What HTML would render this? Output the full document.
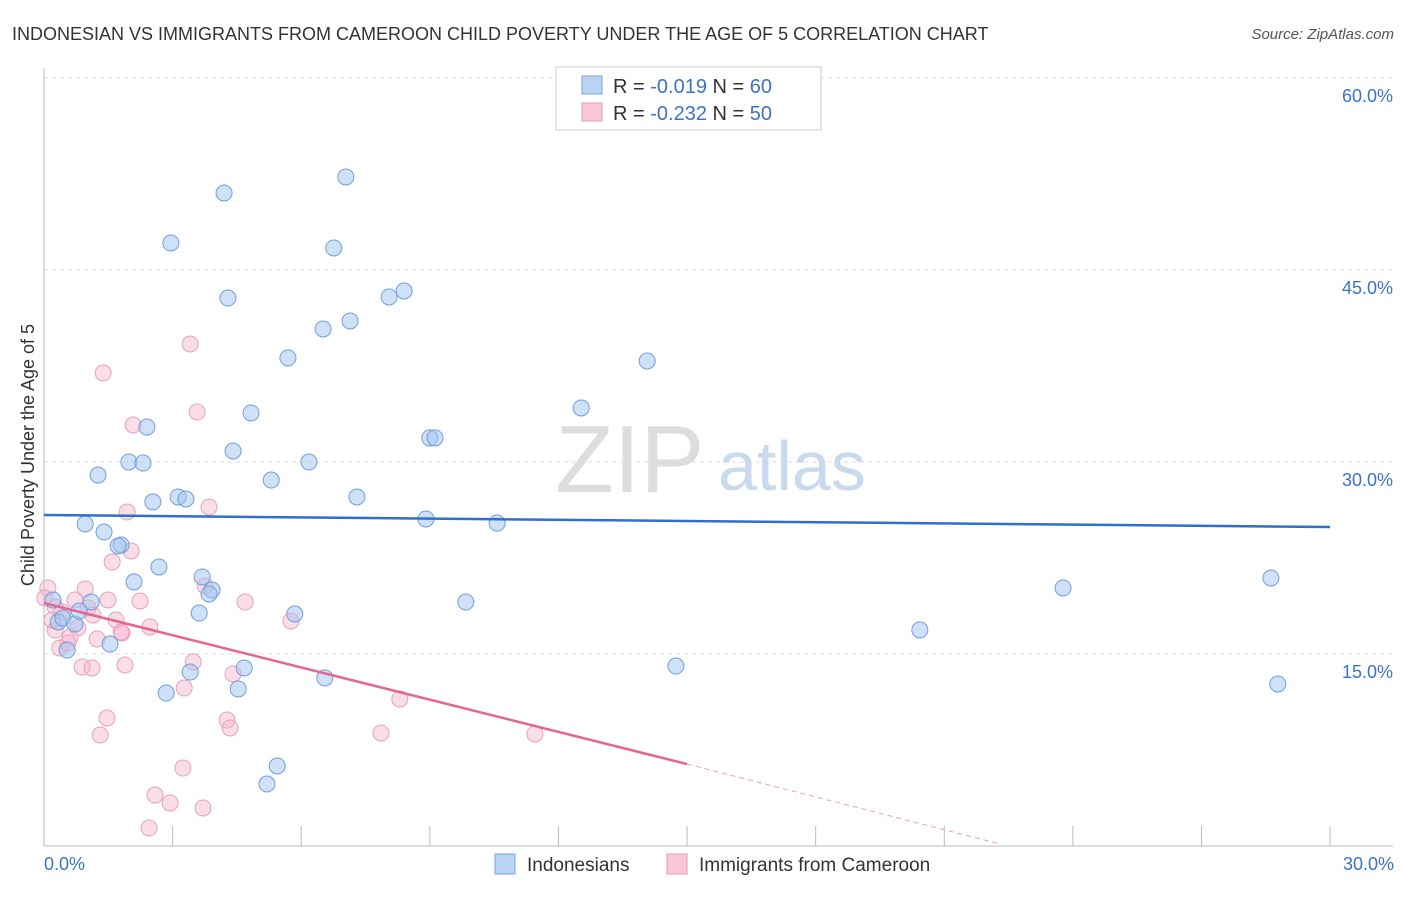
<!DOCTYPE html>
<html><head><meta charset="utf-8"><style>
body{margin:0;background:#fff;font-family:"Liberation Sans",sans-serif;}
svg text{font-family:"Liberation Sans",sans-serif;}
</style></head><body>
<svg width="1406" height="892" xmlns="http://www.w3.org/2000/svg">
<text x="12" y="40" font-size="18" fill="#333">INDONESIAN VS IMMIGRANTS FROM CAMEROON CHILD POVERTY UNDER THE AGE OF 5 CORRELATION CHART</text>
<text x="1394" y="39" font-size="15" fill="#555" font-style="italic" text-anchor="end">Source: ZipAtlas.com</text>
<g id="grid"></g>
<text x="555" y="492" font-size="96" fill="#ddd" font-family="Liberation Serif">ZIP</text>
<text x="718" y="490" font-size="70" fill="#c9d9ee">atlas</text>
<g id="pts"></g>
<g id="lines"></g>
<text transform="translate(34,455) rotate(-90)" font-size="18" fill="#333" text-anchor="middle">Child Poverty Under the Age of 5</text>
<text x="44" y="870" font-size="18" fill="#3a73c9">0.0%</text>
<text x="1394" y="870" font-size="18" fill="#3a73c9" text-anchor="end">30.0%</text>
<g>
<rect x="556" y="67" width="265" height="63" fill="#fff" stroke="#ccc"/>
<rect x="582" y="76" width="20" height="18" fill="#b9d3f3" stroke="#7aa6e0"/>
<rect x="582" y="103" width="20" height="18" fill="#f8c8d8" stroke="#e89ab5"/>
<text x="613" y="93" font-size="20" fill="#333">R = <tspan fill="#3a73c9">-0.019</tspan>   N = <tspan fill="#3a73c9">60</tspan></text>
<text x="613" y="120" font-size="20" fill="#333">R = <tspan fill="#3a73c9">-0.232</tspan>   N = <tspan fill="#3a73c9">50</tspan></text>
</g>
<g>
<rect x="495" y="854" width="20" height="20" fill="#b9d3f3" stroke="#7aa6e0"/>
<text x="527" y="871" font-size="19" fill="#333">Indonesians</text>
<rect x="667" y="854" width="20" height="20" fill="#f8c8d8" stroke="#e89ab5"/>
<text x="699" y="871" font-size="19" fill="#333">Immigrants from Cameroon</text>
</g>
</svg>
<script>
const yTicks=[15,30,45,60];
const yTickLabels=["15.0%","30.0%","45.0%","60.0%"];
const xTicks=[0,3,6,9,12,15,18,21,24,27,30];
const bluePx=[[224,193],[346,177],[171,243],[334,248],[228,298],[389,297],[404,291],[323,329],[350,321],[288,358],[647,361],[251,413],[581,408],[147,427],[430,438],[435,438],[233,451],[129,462],[143,463],[309,462],[98,475],[271,480],[153,502],[178,497],[186,499],[357,497],[426,519],[497,523],[85,524],[104,532],[121,545],[118,546],[159,567],[134,582],[202,577],[212,590],[209,594],[1063,588],[1271,578],[91,602],[199,613],[295,614],[466,602],[53,600],[58,622],[63,618],[75,624],[79,611],[110,644],[67,650],[920,630],[190,672],[244,668],[325,678],[676,666],[166,693],[238,689],[1278,684],[277,766],[267,784]];
const pinkPx=[[190,344],[103,373],[197,412],[133,425],[209,507],[127,512],[131,551],[112,562],[48,588],[85,589],[205,586],[140,601],[108,600],[245,602],[75,600],[88,608],[55,607],[62,612],[93,615],[116,620],[150,627],[122,633],[97,639],[70,637],[60,648],[291,621],[68,643],[193,662],[125,665],[82,667],[92,668],[233,674],[184,688],[400,699],[107,718],[227,720],[230,728],[100,735],[381,733],[535,734],[183,768],[155,795],[170,803],[203,808],[149,828],[55,630],[52,620],[45,598],[78,628],[121,632]];
// convert reading to data values (%)
const blueX=bluePx.map(p=>+((p[0]-44)/42.87).toFixed(2));
const blueY=bluePx.map(p=>+((846-p[1])/12.8).toFixed(2));
const pinkX=pinkPx.map(p=>+((p[0]-44)/42.87).toFixed(2));
const pinkY=pinkPx.map(p=>+((846-p[1])/12.8).toFixed(2));
const blueTrend=[25.86,24.92];
const pinkTrend=[18.98,6.4,0.2];
const pinkTrendX=[0,15,22.25];
const NS="http://www.w3.org/2000/svg";
const sx=v=>44+v*42.87, sy=v=>846-v*12.8;
function mk(t,a,p){const e=document.createElementNS(NS,t);for(const k in a)e.setAttribute(k,a[k]);p.appendChild(e);return e;}
const grid=document.getElementById('grid');
yTicks.forEach((t,i)=>{
 const l=mk('line',{x1:44,x2:1393,y1:sy(t),y2:sy(t),stroke:'#ddd','stroke-dasharray':'4,4'},grid);
 
 
 const tx=mk('text',{x:1393,y:sy(t)+24,'font-size':18,fill:'#3a73c9','text-anchor':'end'},grid);
 tx.textContent=yTickLabels[i];
 
 
});
const ax=mk('line',{x1:44,x2:1393,y1:846,y2:846,stroke:'#bbb'},grid);


const ay=mk('line',{x1:44,x2:44,y1:68,y2:846,stroke:'#bbb'},grid);


xTicks.forEach(t=>{
 const l=mk('line',{x1:sx(t),x2:sx(t),y1:826,y2:846,stroke:'#bbb'},grid);
 
 
});
const pts=document.getElementById('pts');
pinkX.forEach((x,i)=>{
 const c=mk('circle',{cx:sx(x),cy:sy(pinkY[i]),r:8,fill:'rgba(246,180,204,0.45)',stroke:'#e8a0bb','stroke-width':1},pts);
 
 
});
blueX.forEach((x,i)=>{
 const c=mk('circle',{cx:sx(x),cy:sy(blueY[i]),r:8,fill:'rgba(160,196,240,0.5)',stroke:'#6f9fdc','stroke-width':1},pts);
 
 
});
const lines=document.getElementById('lines');
const bl=mk('line',{x1:sx(0),y1:sy(blueTrend[0]),x2:sx(30),y2:sy(blueTrend[1]),stroke:'#2f6fd0','stroke-width':2.5},lines);


const pl=mk('line',{x1:sx(pinkTrendX[0]),y1:sy(pinkTrend[0]),x2:sx(pinkTrendX[1]),y2:sy(pinkTrend[1]),stroke:'#e8638f','stroke-width':2.5},lines);


const pd=mk('line',{x1:sx(pinkTrendX[1]),y1:sy(pinkTrend[1]),x2:sx(pinkTrendX[2]),y2:sy(pinkTrend[2]),stroke:'#e8a0bb','stroke-width':1,'stroke-dasharray':'5,4'},lines);


</script>
</body></html>
